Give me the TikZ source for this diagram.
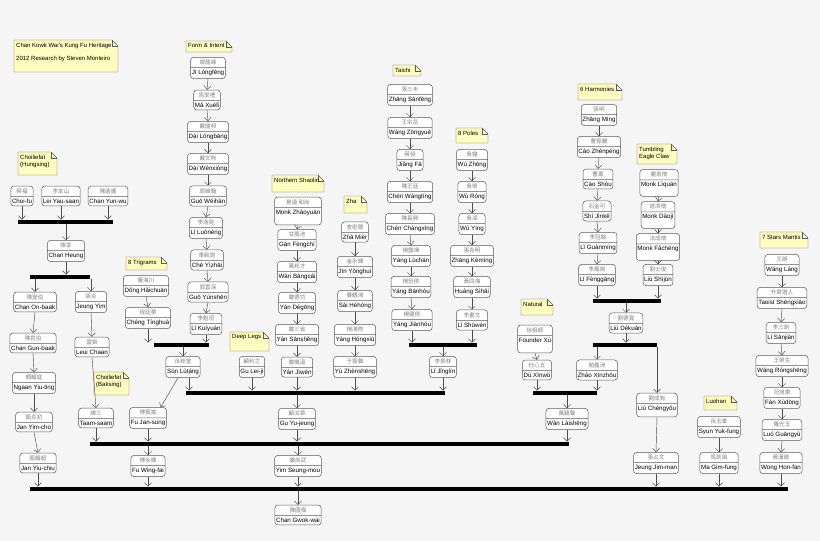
\documentclass[tikz,border=0pt]{standalone}
\usepackage{fontspec}
\setmainfont{Liberation Sans}
\newfontfamily\cjk{Noto Sans CJK TC}
\usetikzlibrary{shapes.multipart,arrows.meta}
\tikzset{
 box/.style={rectangle split, rectangle split parts=2, draw=gray!70!black, fill=white, rounded corners=3pt,
   inner xsep=1.2pt, inner ysep=2.3pt, font=\fontsize{6.2}{7}\selectfont, align=center, line width=0.5pt},
 arr/.style={-{Straight Barb[length=3.5pt,width=7pt]}, draw=gray!60!black, line width=0.45pt},
 barst/.style={fill=black, inner sep=0pt, minimum height=4.5pt},
 notefill/.style={fill=yellow!25!white, draw=gray!70!black, line width=0.4pt},
 notetext/.style={font=\fontsize{6}{7.5}\selectfont, inner sep=1pt, align=left}
}
\newcommand\Pn[4]{\node[box] (#1) at (#2) {{\cjk\color{gray}\fontsize{5.6}{6.5}\selectfont #3}\nodepart{two}#4};}
\newcommand\Bar[4]{\node[barst, minimum width={(#3-#2)*1pt}] (#1) at ({(#2+#3)/2},#4) {};}
\newcommand\Ch[2]{\draw[arr] (#1.south) -- (#2.north);}
\newcommand\ToBar[2]{\draw[arr] (#1.south) -- (#1.south |- #2.north);}
\newcommand\FromBar[2]{\draw[arr] (#2.north |- #1.south) -- (#2.north);}
\newcommand\Mnote[6]{%
 \draw[notefill] (#2,#3) -- (#4-6,#3) -- (#4,#3+6) -- (#4,#5) -- (#2,#5) -- cycle;
 \draw[gray!70!black, line width=0.4pt] (#4-6,#3) |- (#4,#3+6);
 \node[notetext, anchor=north west] (#1) at (#2+1,#3+1.5) {#6};}
\begin{document}
\begin{tikzpicture}[x=1pt,y=-1pt]
\fill[gray!8] (0,0) rectangle (820,541);
\useasboundingbox (0,0) rectangle (820,541);
% notes
\Mnote{ntitle}{14}{40}{118}{72}{Chan Kowk Wai's Kung Fu Heritage\\[6pt]2012 Research by Steven Monteiro}
\Mnote{nform}{186}{41}{232}{52}{Form \& Intent}
\Mnote{nhung}{18}{152}{57}{175}{Choiliefat\\(Hungsing)}
\Mnote{ntri}{126}{257}{167}{270}{8 Trigrams}
\Mnote{nbak}{94}{372}{129}{395}{Choiliefat\\(Baksing)}
\Mnote{ndeep}{230}{332}{269}{351}{Deep Legs}
\Mnote{nnorth}{272}{175}{324}{192}{Northern Shaolin}
\Mnote{nzha}{344}{196}{367}{213}{Zha}
\Mnote{ntai}{393}{65}{421}{76}{Taichi}
\Mnote{npoles}{456}{128}{488}{143}{8 Poles}
\Mnote{nharm}{578}{84}{622}{100}{6 Harmonies}
\Mnote{neagle}{637}{144}{677}{164}{Tumbling\\Eagle Claw}
\Mnote{nnat}{521}{299}{553}{315}{Natural}
\Mnote{nluo}{704}{396}{737}{410}{Luohan}
\Mnote{nmantis}{760}{232}{808}{248}{7 Stars Mantis}
% bars
\Bar{b1}{18}{113}{222}
\Bar{b2}{30}{90}{277}
\Bar{b3}{90}{569}{444}
\Bar{b4}{30}{788}{489}
\Bar{b5}{154}{209}{345}
\Bar{b6}{186}{445}{393}
\Bar{b7}{409}{477}{345}
\Bar{b8}{593}{661}{301}
\Bar{b9}{593}{657}{345}
\Bar{b10}{533}{597}{393}
% Choiliefat
\Pn{choifu}{22,196}{蔡福}{Choi-fu}
\Pn{leiyau}{61,196}{李友山}{Lei Yau-saan}
\Pn{chanyun}{108,196}{陳遠護}{Chan Yun-wu}
\Pn{chanheung}{66,251}{陳享}{Chan Heung}
\Pn{chanon}{35,302}{陳安伯}{Chan On-baak}
\Pn{jeungyim}{91,302}{張炎}{Jeung Yim}
\Pn{changun}{33,343}{陳官伯}{Chan Gun-baak}
\Pn{leuichaan}{92,347}{雷粲}{Leui Chaan}
\Pn{ngaan}{34,383}{顏耀庭}{Ngaan Yiu-ting}
\Pn{janyim}{34,422}{甄炎初}{Jan Yim-cho}
\Pn{taam}{96,418}{譚三}{Taam-saam}
\Pn{fujan}{148,418}{傅振嵩}{Fu Jan-sung}
\Pn{janyiu}{38,463}{甄耀超}{Jan Yiu-chiu}
\Pn{fuwing}{148,466}{傅永輝}{Fu Wing-fai}
\Pn{changwok}{298,515}{陳國偉}{Chan Gwok-wai}
% Form & Intent
\Pn{ji}{208,68}{姬龍峰}{Jī Lóngfēng}
\Pn{ma}{207,100}{馬學禮}{Mǎ Xuélǐ}
\Pn{dail}{208,132}{戴龍邦}{Dài Lóngbāng}
\Pn{daiw}{208,164}{戴文熊}{Dài Wénxióng}
\Pn{guow}{208,196}{郭維翰}{Guō Wéihàn}
\Pn{liluo}{206,228}{李洛能}{Lǐ Luònéng}
\Pn{che}{207,260}{車毅齋}{Chē Yìzhāi}
\Pn{guoy}{208,292}{郭雲深}{Guō Yúnshēn}
\Pn{likui}{206,324}{李魁垣}{Lǐ Kuíyuán}
\Pn{dong}{146,286}{董海川}{Dǒng Hǎichuān}
\Pn{cheng}{148,318}{程廷華}{Chéng Tínghuá}
\Pn{sun}{183,367}{孫祿堂}{Sūn Lùtáng}
\Pn{gulei}{252,367}{顧利之}{Gu Lei-ji}
% Northern Shaolin
\Pn{monkz}{298,211}{覺遠 和尚}{Monk Zhāoyuán\rule[-8pt]{0pt}{8pt}}
\Pn{gan}{297,240}{甘鳳池}{Gān Fèngchí}
\Pn{wanb}{297,272}{萬邦才}{Wàn Bāngcái}
\Pn{yand}{297,303}{嚴德功}{Yán Dégōng}
\Pn{yans}{297,335}{嚴三省}{Yán Sānshěng}
\Pn{yanj}{297,367}{嚴機溫}{Yán Jìwēn}
\Pn{guyu}{297,419}{顧汝章}{Gu Yu-jeung}
\Pn{yim}{298,466}{嚴尚武}{Yim Seung-mou}
% Zha
\Pn{zham}{355,232}{查密爾}{Zhā Mièr}
\Pn{jin}{355,267}{金永輝}{Jīn Yǒnghuì}
\Pn{sai}{355,301}{賽鶴鴻}{Sài Hèhóng}
\Pn{yangh}{355,335}{楊鴻修}{Yáng Hóngxiū}
\Pn{yu}{355,367}{于振聲}{Yú Zhènshēng}
% Taichi
\Pn{zhangs}{410,95}{張三丰}{Zhāng Sānfēng}
\Pn{wangz}{410,128}{王宗岳}{Wáng Zōngyuè}
\Pn{jiang}{410,160}{蔣發}{Jiǎng Fā}
\Pn{chenw}{410,192}{陳王廷}{Chén Wángtíng}
\Pn{chenc}{410,224}{陳長興}{Chén Chángxīng}
\Pn{yangl}{411,256}{楊露禪}{Yáng Lùchán}
\Pn{yangb}{411,287}{楊班侯}{Yáng Bānhóu}
\Pn{yangj}{412,320}{楊健侯}{Yáng Jiànhóu}
\Pn{lijing}{443,367}{李景林}{Lǐ Jǐnglín}
% 8 Poles
\Pn{wuz}{472,160}{吳鐘}{Wú Zhōng}
\Pn{wur}{472,192}{吳榮}{Wú Róng}
\Pn{wuy}{472,224}{吳溁}{Wú Yíng}
\Pn{zhangk}{472,256}{張克明}{Zhāng Kèmíng}
\Pn{huang}{472,287}{黃四海}{Huáng Sìhǎi}
\Pn{lishu}{472,320}{李書文}{Lǐ Shūwén}
% 6 Harmonies
\Pn{zhangm}{599,115}{張明}{Zhāng Míng}
\Pn{caoz}{599,147}{曹振鵬}{Cáo Zhènpéng}
\Pn{caos}{598,179}{曹壽}{Cáo Shòu}
\Pn{shi}{597,211}{石金可}{Shí Jìnkě}
\Pn{lig}{598,243}{李冠銘}{Lǐ Guànmíng}
\Pn{lif}{597,275}{李鳳崗}{Lǐ Fènggāng}
% Eagle claw
\Pn{monkl}{659,183}{麗泉僧}{Monk Lìquán\rule[-7pt]{0pt}{7pt}}
\Pn{monkd}{658,215}{道濟僧}{Monk Dàojì\rule[-7pt]{0pt}{7pt}}
\Pn{monkf}{658,247}{法成僧}{Monk Fǎchéng\rule[-7pt]{0pt}{7pt}}
\Pn{liush}{658,275}{劉士俊}{Liú Shìjùn}
\Pn{liud}{626,323}{劉德寬}{Liú Dékuān}
% Natural
\Pn{founder}{535,339}{徐祖師}{Founder Xú\rule[-8pt]{0pt}{8pt}}
\Pn{du}{537,370}{杜心五}{Dù Xīnwǔ}
\Pn{zhao}{597,370}{趙鑫洲}{Zhào Xīnzhōu}
\Pn{wanl}{567,419}{萬籟聲}{Wàn Làishēng}
\Pn{liuc}{657,405}{劉成有}{Liú Chéngyǒu\rule[-4pt]{0pt}{4pt}}
\Pn{jeungjim}{656,463}{張占文}{Jeung Jim-man}
% Luohan
\Pn{syun}{719,427}{孫玉峯}{Syun Yuk-fung}
\Pn{magim}{719,463}{馬劍風}{Ma Gim-fung}
% Mantis
\Pn{wangl}{782,265}{王朗}{Wáng Láng}
\Pn{taoist}{782,298}{升霄道人}{Taoist Shēngxiāo}
\Pn{lisan}{781,333}{李三劍}{Lǐ Sānjiàn}
\Pn{wangr}{782,366}{王榮生}{Wáng Róngshēng}
\Pn{fan}{782,398}{范旭東}{Fàn Xùdōng}
\Pn{luo}{782,430}{羅光玉}{Luó Guāngyù}
\Pn{wong}{781,463}{黃漢勛}{Wong Hon-fan}
% edges
\ToBar{choifu}{b1}\ToBar{leiyau}{b1}\ToBar{chanyun}{b1}
\FromBar{b1}{chanheung}\ToBar{chanheung}{b2}
\FromBar{b2}{chanon}\FromBar{b2}{jeungyim}
\Ch{chanon}{changun}\Ch{changun}{ngaan}\Ch{ngaan}{janyim}\Ch{janyim}{janyiu}
\ToBar{janyiu}{b4}
\Ch{jeungyim}{leuichaan}\Ch{leuichaan}{taam}\ToBar{taam}{b3}
\ToBar{fujan}{b3}\FromBar{b3}{fuwing}\ToBar{fuwing}{b4}
\Ch{ji}{ma}\Ch{ma}{dail}\Ch{dail}{daiw}\Ch{daiw}{guow}\Ch{guow}{liluo}\Ch{liluo}{che}\Ch{che}{guoy}\Ch{guoy}{likui}
\ToBar{likui}{b5}\Ch{dong}{cheng}\ToBar{cheng}{b5}\FromBar{b5}{sun}
\draw[arr] ([xshift=6pt]sun.south) -- ([xshift=6pt]sun.south |- b6.north);
\draw[arr] ([xshift=-5pt]sun.south) -- ([xshift=-6pt]fujan.north east);
\ToBar{gulei}{b6}
\Ch{monkz}{gan}\Ch{gan}{wanb}\Ch{wanb}{yand}\Ch{yand}{yans}\Ch{yans}{yanj}\ToBar{yanj}{b6}
\Ch{zham}{jin}\Ch{jin}{sai}\Ch{sai}{yangh}\Ch{yangh}{yu}\ToBar{yu}{b6}
\Ch{zhangs}{wangz}\Ch{wangz}{jiang}\Ch{jiang}{chenw}\Ch{chenw}{chenc}\Ch{chenc}{yangl}\Ch{yangl}{yangb}\Ch{yangb}{yangj}\ToBar{yangj}{b7}
\Ch{wuz}{wur}\Ch{wur}{wuy}\Ch{wuy}{zhangk}\Ch{zhangk}{huang}\Ch{huang}{lishu}\ToBar{lishu}{b7}
\FromBar{b7}{lijing}\ToBar{lijing}{b6}
\FromBar{b6}{guyu}\ToBar{guyu}{b3}\FromBar{b3}{yim}\ToBar{yim}{b4}
\Ch{zhangm}{caoz}\Ch{caoz}{caos}\Ch{caos}{shi}\Ch{shi}{lig}\Ch{lig}{lif}\ToBar{lif}{b8}
\Ch{monkl}{monkd}\Ch{monkd}{monkf}\Ch{monkf}{liush}\ToBar{liush}{b8}
\FromBar{b8}{liud}\ToBar{liud}{b9}\FromBar{b9}{zhao}\FromBar{b9}{liuc}
\Ch{founder}{du}\ToBar{du}{b10}\ToBar{zhao}{b10}\FromBar{b10}{wanl}\ToBar{wanl}{b3}
\Ch{liuc}{jeungjim}\ToBar{jeungjim}{b4}
\Ch{syun}{magim}\ToBar{magim}{b4}
\Ch{wangl}{taoist}\Ch{taoist}{lisan}\Ch{lisan}{wangr}\Ch{wangr}{fan}\Ch{fan}{luo}\Ch{luo}{wong}\ToBar{wong}{b4}
\FromBar{b4}{changwok}
\end{tikzpicture}
\end{document}
